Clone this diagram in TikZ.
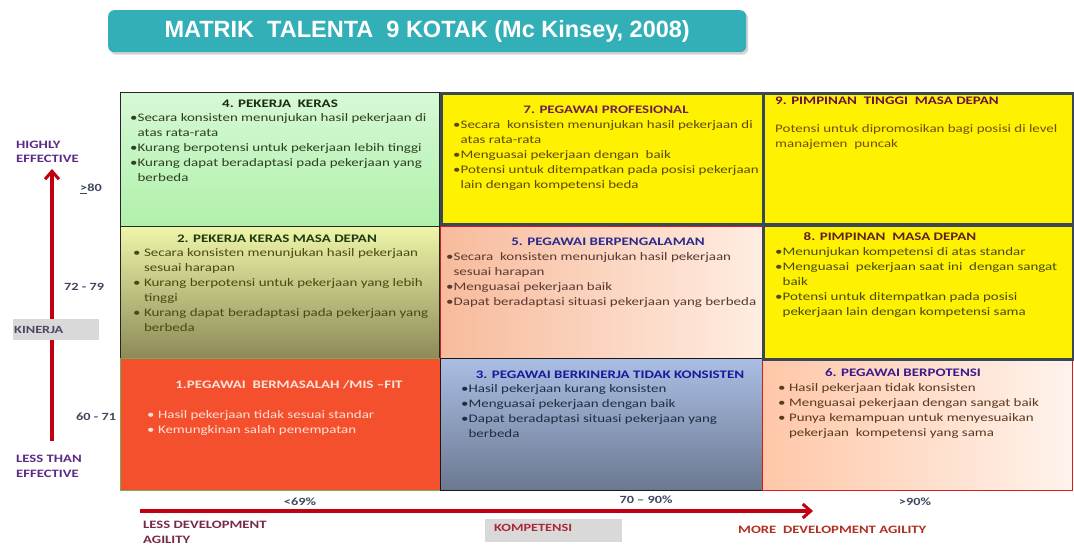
\documentclass[tikz,border=0pt]{standalone}
\usepackage{fontspec}
\setmainfont{Carlito}[FakeStretch=1.3]
\newfontfamily\titlefont{Liberation Sans}
\usetikzlibrary{arrows.meta,shadows}
\definecolor{teal1}{HTML}{33AFB8}
\definecolor{slate}{HTML}{3B4754}
\definecolor{axred}{HTML}{C00010}
\definecolor{purp}{HTML}{5B2A86}
\definecolor{maroon1}{HTML}{7A2848}
\definecolor{rust}{HTML}{B03020}
\definecolor{numgray}{HTML}{404860}
\definecolor{greybox}{HTML}{D9D9D9}
\tikzset{
  cell/.style={draw, line width=1.3pt, minimum width=#1, anchor=north west, inner sep=0pt},
  ttl/.style={font=\bfseries\fontsize{11.5}{14}\selectfont, inner sep=0pt},
  body/.style={font=\fontsize{11.5}{15}\selectfont, align=left, anchor=north west, inner sep=0pt},
  axlbl/.style={font=\bfseries\fontsize{11.3}{14.5}\selectfont, align=left, anchor=west, inner sep=0pt},
  numlbl/.style={font=\bfseries\fontsize{11}{13}\selectfont, text=numgray, inner sep=0pt},
  axarrow/.style={draw=axred, line width=3.2pt, -{Straight Barb[length=8pt,width=14pt,line width=3pt]}},
  greyrect/.style={fill=greybox, draw=none, anchor=north west, inner sep=0pt}
}
\newcommand{\ind}{\hphantom{•}}
\newcommand{\inds}{\hphantom{•\ }}
\begin{document}
\begin{tikzpicture}[x=1pt,y=-1pt]
\useasboundingbox (0,0) rectangle (1074,545);
% title
\node[fill=teal1, rounded corners=6pt, minimum width=638pt, minimum height=42pt, anchor=north west, inner sep=0pt,
      drop shadow={opacity=0.35, shadow xshift=2pt, shadow yshift=-2.5pt}] (title) at (108,10) {};
\node[text=white, font=\titlefont\bfseries\fontsize{23.5}{26}\selectfont, inner sep=0pt] (titletext) at (title.center) {MATRIK\ \ TALENTA\ \ 9 KOTAK (Mc Kinsey, 2008)};

% cells (light borders first)
\node[cell=319pt, minimum height=134pt, top color={rgb,255:red,214;green,249;blue,214}, bottom color={rgb,255:red,176;green,240;blue,170}, draw=black!85] (b4) at (120,92) {};
\node[cell=319pt, minimum height=132pt, top color={rgb,255:red,238;green,245;blue,168}, bottom color={rgb,255:red,140;green,138;blue,88}, draw=black!85] (b2) at (120,226) {};
\node[cell=320pt, minimum height=132pt, fill={rgb,255:red,244;green,80;blue,46}, draw={rgb,255:red,120;green,170;blue,90}, line width=1pt] (b1) at (120,358) {};
\node[cell=322pt, minimum height=132pt, left color={rgb,255:red,247;green,187;blue,156}, right color={rgb,255:red,255;green,237;blue,226}, draw={rgb,255:red,210;green,30;blue,30}] (b5) at (440,226) {};
\node[cell=322pt, minimum height=132pt, top color={rgb,255:red,170;green,190;blue,228}, bottom color={rgb,255:red,108;green,120;blue,144}, draw=black!90] (b3) at (440,358) {};
\node[cell=310pt, minimum height=132pt, left color={rgb,255:red,255;green,199;blue,168}, right color={rgb,255:red,255;green,243;blue,236}, draw={rgb,255:red,210;green,30;blue,30}] (b6) at (762,358) {};
% yellow cells with heavy slate borders
\node[cell=322pt, minimum height=131pt, fill=yellow, draw=slate, line width=3pt] (b7) at (440,92) {};
\node[cell=310pt, minimum height=131pt, fill=yellow, draw=slate, line width=3pt] (b9) at (762,92) {};
\node[cell=310pt, minimum height=134pt, fill=yellow, draw=slate, line width=3pt] (b8) at (762,224) {};

% box 4
\node[ttl, text={rgb,255:red,26;green,42;blue,16}] (t4) at (280,104) {4. PEKERJA\ \ KERAS};
\node[body, text={rgb,255:red,47;green,64;blue,31}] (x4) at (130,113) {•Secara konsisten menunjukan hasil pekerjaan di\\ \ind atas rata-rata\\ •Kurang berpotensi untuk pekerjaan lebih tinggi\\ •Kurang dapat beradaptasi pada pekerjaan yang\\ \ind berbeda};
% box 7
\node[ttl, text={rgb,255:red,106;green,32;blue,80}] (t7) at (606,110) {7. PEGAWAI PROFESIONAL};
\node[body, text={rgb,255:red,90;green,74;blue,16}] (x7) at (453,120) {•Secara\ \ konsisten menunjukan hasil pekerjaan di\\ \ind atas rata-rata\\ •Menguasai pekerjaan dengan\ \ baik\\ •Potensi untuk ditempatkan pada posisi pekerjaan\\ \ind lain dengan kompetensi beda};
% box 9
\node[ttl, anchor=west, text={rgb,255:red,106;green,16;blue,64}] (t9) at (775,101) {9. PIMPINAN\ \ TINGGI\ \ MASA DEPAN};
\node[body, text={rgb,255:red,122;green,74;blue,16}] (x9) at (775,124) {Potensi untuk dipromosikan bagi posisi di level\\ manajemen\ \ puncak};
% box 2
\node[ttl, text={rgb,255:red,30;green,58;blue,16}] (t2) at (277,239) {2. PEKERJA KERAS MASA DEPAN};
\node[body, text={rgb,255:red,74;green,74;blue,16}] (x2) at (133,248) {• Secara konsisten menunjukan hasil pekerjaan\\ \inds sesuai harapan\\ • Kurang berpotensi untuk pekerjaan yang lebih\\ \inds tinggi\\ • Kurang dapat beradaptasi pada pekerjaan yang\\ \inds berbeda};
% box 5
\node[ttl, text={rgb,255:red,42;green,42;blue,144}] (t5) at (608,242) {5. PEGAWAI BERPENGALAMAN};
\node[body, text={rgb,255:red,90;green,58;blue,48}] (x5) at (446,252) {•Secara\ \ konsisten menunjukan hasil pekerjaan\\ \ind sesuai harapan\\ •Menguasai pekerjaan baik\\ •Dapat beradaptasi situasi pekerjaan yang berbeda};
% box 8
\node[ttl, text={rgb,255:red,96;green,32;blue,32}] (t8) at (890,237) {8. PIMPINAN\ \ MASA DEPAN};
\node[body, text={rgb,255:red,74;green,74;blue,16}] (x8) at (775,247) {•Menunjukan kompetensi di atas standar\\ •Menguasai\ \ pekerjaan saat ini\ \ dengan sangat\\ \ind baik\\ •Potensi untuk ditempatkan pada posisi\\ \ind pekerjaan lain dengan kompetensi sama};
% box 1
\node[ttl, text={rgb,255:red,255;green,228;blue,220}] (t1) at (289,385) {1.PEGAWAI\ \ BERMASALAH /MIS –FIT};
\node[body, text={rgb,255:red,255;green,224;blue,214}] (x1) at (147,410) {• Hasil pekerjaan tidak sesuai standar\\ • Kemungkinan salah penempatan};
% box 3
\node[ttl, text={rgb,255:red,26;green,26;blue,154}] (t3) at (610,375) {3. PEGAWAI BERKINERJA TIDAK KONSISTEN};
\node[body, text={rgb,255:red,26;green,48;blue,64}] (x3) at (461,384) {•Hasil pekerjaan kurang konsisten\\ •Menguasai pekerjaan dengan baik\\ •Dapat beradaptasi situasi pekerjaan yang\\ \ind berbeda};
% box 6
\node[ttl, text={rgb,255:red,58;green,26;blue,144}] (t6) at (903,373) {6. PEGAWAI BERPOTENSI};
\node[body, text={rgb,255:red,90;green,58;blue,32}] (x6) at (778,383) {• Hasil pekerjaan tidak konsisten\\ • Menguasai pekerjaan dengan sangat baik\\ • Punya kemampuan untuk menyesuaikan\\ \inds pekerjaan\ \ kompetensi yang sama};

% vertical axis
\coordinate (va1) at (52,441);
\coordinate (va2) at (52,169);
\draw[axarrow] (va1) -- (va2);
\node[axlbl, text=purp] (hi) at (16,152) {HIGHLY\\EFFECTIVE};
\node[axlbl, text=purp] (lo) at (16,466.5) {LESS THAN\\EFFECTIVE};
\node[numlbl, anchor=west] (n80) at (80,189) {\underline{>}80};
\node[numlbl, anchor=west] (n72) at (64,287) {72 - 79};
\node[numlbl, anchor=west] (n60) at (76,417) {60 - 71};
\node[greyrect, minimum width=86pt, minimum height=21pt] (kin) at (13,319) {};
\node[font=\bfseries\fontsize{11}{13}\selectfont, text={rgb,255:red,80;green,70;blue,100}, anchor=west, inner sep=0pt] (kintext) at (14,329.5) {KINERJA};

% horizontal axis
\coordinate (ha1) at (140,511);
\coordinate (ha2) at (813,511);
\draw[axarrow] (ha1) -- (ha2);
\node[numlbl] (p69) at (300,502) {<69\%};
\node[numlbl] (p70) at (646,500) {70 – 90\%};
\node[numlbl] (p90) at (915,502) {>90\%};
\node[axlbl, text=maroon1] (lessdev) at (143,532.5) {LESS DEVELOPMENT\\AGILITY};
\node[axlbl, text=rust] (moredev) at (738,530) {MORE\ \ DEVELOPMENT AGILITY};
\node[greyrect, minimum width=137pt, minimum height=23pt] (komp) at (485,519) {};
\node[font=\bfseries\fontsize{11}{13}\selectfont, text={rgb,255:red,170;green,40;blue,60}, anchor=west, inner sep=0pt] (komptext) at (494,528) {KOMPETENSI};
\end{tikzpicture}
\end{document}
